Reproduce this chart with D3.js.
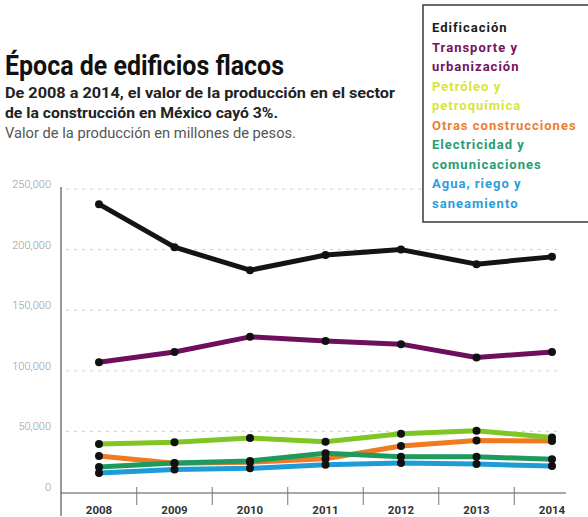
<html>
<head>
<meta charset="utf-8">
<title>Época de edificios flacos</title>
<script src="https://d3js.org/d3.v7.min.js"></script>
<style>
  body { margin: 0; background: #fff; }
  svg { display: block; }
</style>
</head>
<body>
<svg class="chart"></svg>
<script>

    // data (millones de pesos)
    var years = ['2008', '2009', '2010', '2011', '2012', '2013', '2014'];
    var yTicks = [0, 50000, 100000, 150000, 200000, 250000];
    var yTickLabels = ['0', '50,000', '100,000', '150,000', '200,000', '250,000'];

    var edificacion  = [237500, 202000, 183000, 195500, 200000, 188000, 194000];
    var transporte   = [107000, 115500, 128000, 124500, 122000, 111000, 115500];
    var petroleo     = [39600, 41000, 44500, 41500, 48000, 50500, 45000];
    var otras        = [29700, 23800, 24500, 27500, 38000, 42500, 42000];
    var electricidad = [20600, 24000, 25600, 32000, 29000, 29000, 27000];
    var agua         = [15700, 18500, 19500, 22500, 24000, 23000, 21500];

    var legendLines = [
        ['Edificación', '#1b1b1b'],
        ['Transporte y', '#74135f'],
        ['urbanización', '#74135f'],
        ['Petróleo y', '#d9e43a'],
        ['petroquímica', '#d9e43a'],
        ['Otras construcciones', '#ee7d2c'],
        ['Electricidad y', '#2a9b72'],
        ['comunicaciones', '#2a9b72'],
        ['Agua, riego y', '#2a9ed8'],
        ['saneamiento', '#2a9ed8']
    ];

    // drawing order: bottom first
    var series = [
        { values: otras, color: '#f07a22' },
        { values: electricidad, color: '#1d9a5e' },
        { values: agua, color: '#1f9cd8' },
        { values: petroleo, color: '#7fc524' },
        { values: transporte, color: '#6e0f5e' },
        { values: edificacion, color: '#141414' }
    ];

    var svgWidth = 588, svgHeight = 517;

    var svg = d3.select('svg')
        .attr('width', svgWidth)
        .attr('height', svgHeight)
        .style('font-family', 'Roboto, "Open Sans", sans-serif');

    var xScale = d3.scalePoint()
        .domain(years)
        .range([99, 552]);

    var yScale = d3.scaleLinear()
        .domain([0, 250000])
        .range([492, 189]);

    // heading
    svg.append('text')
        .attr('x', 5).attr('y', 75)
        .attr('font-size', 27).attr('font-weight', 'bold')
        .attr('fill', '#111')
        .attr('textLength', 279).attr('lengthAdjust', 'spacingAndGlyphs')
        .text('Época de edificios flacos');

    svg.append('text')
        .attr('x', 5).attr('y', 98)
        .attr('font-size', 15.5).attr('font-weight', 'bold')
        .attr('fill', '#222')
        .attr('textLength', 390).attr('lengthAdjust', 'spacingAndGlyphs')
        .text('De 2008 a 2014, el valor de la producción en el sector');

    svg.append('text')
        .attr('x', 5).attr('y', 118)
        .attr('font-size', 15.5).attr('font-weight', 'bold')
        .attr('fill', '#222')
        .attr('textLength', 273).attr('lengthAdjust', 'spacingAndGlyphs')
        .text('de la construcción en México cayó 3%.');

    svg.append('text')
        .attr('x', 5).attr('y', 138)
        .attr('font-size', 14.5)
        .attr('fill', '#555')
        .attr('textLength', 291).attr('lengthAdjust', 'spacingAndGlyphs')
        .text('Valor de la producción en millones de pesos.');

    // gridlines
    svg.selectAll('line.grid')
        .data(yTicks.slice(1))
        .enter()
        .append('line')
        .attr('class', 'grid')
        .attr('x1', 66).attr('x2', 562)
        .attr('y1', function (d) { return yScale(d); })
        .attr('y2', function (d) { return yScale(d); })
        .attr('stroke', '#cfcfcf')
        .attr('stroke-width', 1)
        .attr('stroke-dasharray', '3,5');

    // y tick labels
    svg.selectAll('text.ytick')
        .data(yTicks)
        .enter()
        .append('text')
        .attr('class', 'ytick')
        .attr('x', 51)
        .attr('y', function (d) { return yScale(d) - 1; })
        .attr('text-anchor', 'end')
        .attr('font-size', 11)
        .attr('font-weight', 300)
        .attr('fill', '#999')
        .text(function (d, i) { return yTickLabels[i]; });

    // axes
    svg.append('line')
        .attr('x1', 61).attr('x2', 61)
        .attr('y1', 187).attr('y2', 516)
        .attr('stroke', '#555').attr('stroke-width', 1.2);

    svg.append('line')
        .attr('x1', 61).attr('x2', 566)
        .attr('y1', yScale(0) + 1).attr('y2', yScale(0) + 1)
        .attr('stroke', '#555').attr('stroke-width', 1.2);

    var step = xScale.step();
    svg.selectAll('line.xtick')
        .data(years.slice(0, -1))
        .enter()
        .append('line')
        .attr('class', 'xtick')
        .attr('x1', function (d) { return xScale(d) + step / 2; })
        .attr('x2', function (d) { return xScale(d) + step / 2; })
        .attr('y1', yScale(0) - 5).attr('y2', yScale(0) + 13)
        .attr('stroke', '#777').attr('stroke-width', 1);

    svg.selectAll('text.xlabel')
        .data(years)
        .enter()
        .append('text')
        .attr('class', 'xlabel')
        .attr('x', function (d) { return xScale(d); })
        .attr('y', 514)
        .attr('text-anchor', 'middle')
        .attr('font-size', 11.5).attr('font-weight', 'bold')
        .attr('fill', '#333')
        .text(function (d) { return d; });

    // lines
    var line = d3.line()
        .x(function (d, i) { return xScale(years[i]); })
        .y(function (d) { return yScale(d); });

    svg.selectAll('path.series')
        .data(series)
        .enter()
        .append('path')
        .attr('class', 'series')
        .attr('d', function (d) { return line(d.values); })
        .attr('fill', 'none')
        .attr('stroke', function (d) { return d.color; })
        .attr('stroke-width', 5)
        .attr('stroke-linejoin', 'round');

    // dots
    series.forEach(function (s) {
        svg.selectAll(null)
            .data(s.values)
            .enter()
            .append('circle')
            .attr('cx', function (d, i) { return xScale(years[i]); })
            .attr('cy', function (d) { return yScale(d); })
            .attr('r', 4)
            .attr('fill', '#111');
    });

    // legend
    svg.append('rect')
        .attr('x', 423).attr('y', 5)
        .attr('width', 175).attr('height', 217)
        .attr('fill', '#fff')
        .attr('stroke', '#3a3a3a').attr('stroke-width', 1.5);

    svg.selectAll('text.legend')
        .data(legendLines)
        .enter()
        .append('text')
        .attr('class', 'legend')
        .attr('x', 432)
        .attr('y', function (d, i) { return 32 + i * 19.5; })
        .attr('font-size', 13).attr('font-weight', 'bold')
        .attr('letter-spacing', 1)
        .attr('fill', function (d) { return d[1]; })
        .text(function (d) { return d[0]; });

</script>
</body>
</html>
